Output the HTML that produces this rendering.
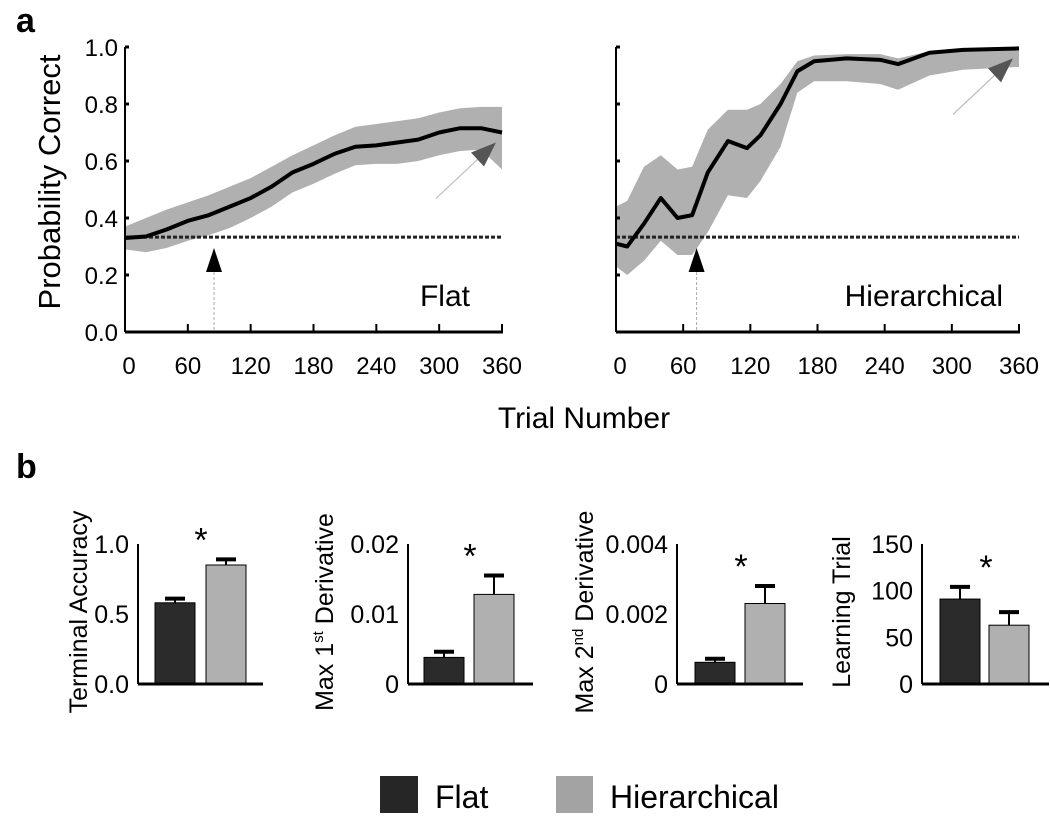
<!DOCTYPE html>
<html><head><meta charset="utf-8"><style>
body{margin:0;background:#fff;}
svg{display:block;font-family:"Liberation Sans",sans-serif;}
</style></head><body>
<svg id="fig" width="1050" height="819" viewBox="0 0 1050 819">
<text x="16" y="32" font-size="34" font-weight="bold">a</text>
<text x="16" y="478" font-size="34" font-weight="bold">b</text>
<text transform="translate(60,182) rotate(-90)" text-anchor="middle" font-size="31">Probability Correct</text>
<text x="584" y="428" text-anchor="middle" font-size="30">Trial Number</text>
<g id="lines"></g>
<g id="bars"></g>
<g>
<rect x="380" y="776" width="38" height="37" fill="#262626"/>
<text x="435" y="808" font-size="32">Flat</text>
<rect x="556" y="776" width="37" height="37" fill="#a3a3a3"/>
<text x="610" y="808" font-size="32">Hierarchical</text>
</g>
</svg>
<script>
const flatTrials=[0,20,40,60,80,100,120,140,160,180,200,220,240,260,280,300,320,340,360];
const flatMean=[0.33,0.335,0.36,0.39,0.41,0.44,0.47,0.51,0.56,0.59,0.625,0.65,0.655,0.665,0.675,0.70,0.715,0.715,0.70];
const flatUpper=[0.37,0.40,0.43,0.455,0.48,0.51,0.54,0.58,0.62,0.655,0.69,0.72,0.73,0.74,0.75,0.77,0.785,0.79,0.79];
const flatLower=[0.29,0.28,0.295,0.32,0.34,0.365,0.40,0.44,0.49,0.52,0.555,0.585,0.59,0.59,0.60,0.62,0.635,0.64,0.57];
const hierTrials=[0,10,25,40,55,68,82,100,117,129,147,162,177,206,236,252,280,310,360];
const hierMean=[0.31,0.30,0.38,0.47,0.40,0.41,0.56,0.67,0.645,0.69,0.80,0.915,0.95,0.96,0.955,0.94,0.98,0.99,0.995];
const hierUpper=[0.44,0.46,0.58,0.62,0.57,0.58,0.71,0.78,0.78,0.80,0.87,0.95,0.97,0.975,0.975,0.96,0.985,0.995,0.995];
const hierLower=[0.23,0.20,0.25,0.32,0.27,0.27,0.35,0.48,0.47,0.53,0.65,0.84,0.88,0.88,0.87,0.85,0.90,0.92,0.93];
const xTicks=[0,60,120,180,240,300,360];
const yTicks=[0,0.2,0.4,0.6,0.8,1.0];
const chance=0.333;
const learnTrials=[85,72];

const barNames=["terminal-accuracy","max-1st-derivative","max-2nd-derivative","learning-trial"];
const barFlat=[0.58,0.0038,0.00062,91];
const barFlatErr=[0.03,0.0008,0.0001,13];
const barHier=[0.85,0.0128,0.0023,63];
const barHierErr=[0.04,0.0027,0.0005,14];
const barMax=[1.0,0.02,0.004,150];
const barTickLabels=[["0.0","0.5","1.0"],["0","0.01","0.02"],["0","0.002","0.004"],["0","50","100","150"]];

const NS="http://www.w3.org/2000/svg";
function mk(tag,attrs,parent){const e=document.createElementNS(NS,tag);for(const k in attrs)e.setAttribute(k,attrs[k]);parent.appendChild(e);return e;}
const L=document.getElementById('lines');
const panels=[{x0:125,x1:502,name:"flat",t:flatTrials,m:flatMean,u:flatUpper,l:flatLower,lab:"Flat",labX:470,ticks:true},
{x0:616,x1:1019,name:"hierarchical",t:hierTrials,m:hierMean,u:hierUpper,l:hierLower,lab:"Hierarchical",labX:1003,ticks:false}];
const y0=332,y1=47;
panels.forEach((p,pi)=>{
 const sx=v=>p.x0+v/360*(p.x1-p.x0), sy=v=>y0+v*(y1-y0);
 const g=mk('g',{},L);
 
 
 let d='M'+p.t.map((t,i)=>sx(t)+','+sy(p.u[i])).join('L');
 for(let i=p.t.length-1;i>=0;i--)d+='L'+sx(p.t[i])+','+sy(p.l[i]);
 const band=mk('path',{d:d+'Z',fill:'#b0b0b0'},g);
 
 
 const ch=mk('line',{x1:p.x0,x2:p.x1,y1:sy(chance),y2:sy(chance),stroke:'#222','stroke-width':3,'stroke-dasharray':'4,2'},g);
 
 
 const ml=mk('path',{d:'M'+p.t.map((t,i)=>sx(t)+','+sy(p.m[i])).join('L'),fill:'none',stroke:'#000','stroke-width':4,'stroke-linejoin':'round'},g);
 
 
 const lx=sx(learnTrials[pi]);
 const dl=mk('line',{x1:lx,x2:lx,y1:272,y2:y0,stroke:'#aaa','stroke-width':1,'stroke-dasharray':'3,2'},g);
 
 
 const ah=mk('polygon',{points:(lx-8)+',272 '+(lx+8)+',272 '+lx+',248',fill:'#000'},g);
 
 
 const tx=p.x1-6, ty=sy(p.m[p.m.length-1])+10;
 const ga=mk('line',{x1:tx-60,y1:ty+56,x2:tx-10,y2:ty+9,stroke:'#bbb','stroke-width':1.2},g);
 
 
 const gh=mk('polygon',{points:tx+','+ty+' '+(tx-25)+','+(ty+10)+' '+(tx-12)+','+(ty+24),fill:'#555'},g);
 
 
 const ya=mk('line',{x1:p.x0,x2:p.x0,y1:y1,y2:y0,stroke:'#000','stroke-width':2},g);
 
 
 const xa=mk('line',{x1:p.x0,x2:p.x1+1,y1:y0,y2:y0,stroke:'#000','stroke-width':3},g);
 
 
 yTicks.forEach(v=>{
  const tk=mk('line',{x1:p.x0,x2:p.x0+4,y1:sy(v),y2:sy(v),stroke:'#000','stroke-width':3},g);
  
  
  if(p.ticks){const t=mk('text',{x:p.x0-7,y:sy(v)+9,'text-anchor':'end','font-size':24},g);t.textContent=v.toFixed(1);
   
   }
 });
 xTicks.forEach(v=>{
  const tk=mk('line',{x1:sx(v),x2:sx(v),y1:y0,y2:y0-8,stroke:'#000','stroke-width':2},g);
  
  
  const t=mk('text',{x:sx(v)+(v===0?4:0),y:374,'text-anchor':'middle','font-size':24},g);t.textContent=v;
  
  
 });
 const lab=mk('text',{x:p.labX,y:306,'text-anchor':'end','font-size':30},g);lab.textContent=p.lab;
 
 
});

const B=document.getElementById('bars');
const bp=[{ax:138,end:263,b1:155,b2:206,t:"Terminal Accuracy",sup:null,tOff:51},
{ax:408,end:533,b1:424,b2:474,t:"Max 1",sup:["st"," Derivative"],tOff:75},
{ax:677,end:803,b1:695,b2:745,t:"Max 2",sup:["nd"," Derivative"],tOff:84},
{ax:922,end:1049,b1:940,b2:989,t:"Learning Trial",sup:null,tOff:72}];
const by0=684,by1=544,bw=40;
bp.forEach((p,i)=>{
 const sy=v=>by0+v/barMax[i]*(by1-by0);
 const g=mk('g',{},B);
 
 
 [[p.b1,barFlat[i],barFlatErr[i],'#2b2b2b','flat'],[p.b2,barHier[i],barHierErr[i],'#b0b0b0','hierarchical']].forEach(b=>{
  const cx=b[0]+bw/2, top=sy(b[1]), et=sy(b[1]+b[2]);
  const el=mk('line',{x1:cx,x2:cx,y1:top,y2:et,stroke:'#000','stroke-width':2},g);
  
  
  const ec=mk('line',{x1:cx-10,x2:cx+10,y1:et,y2:et,stroke:'#000','stroke-width':4},g);
  
  
  const r=mk('rect',{x:b[0],y:top,width:bw,height:by0-top,fill:b[3],stroke:'#000','stroke-width':1},g);
  
  
 });
 const ya=mk('line',{x1:p.ax,x2:p.ax,y1:by1,y2:by0,stroke:'#000','stroke-width':2},g);
 
 
 const xa=mk('line',{x1:p.ax,x2:p.end,y1:by0,y2:by0,stroke:'#000','stroke-width':3},g);
 
 
 const tl=barTickLabels[i];
 tl.forEach((s,k)=>{
  const v=barMax[i]*k/(tl.length-1);
  const t=mk('text',{x:p.ax-9,y:sy(v)+9,'text-anchor':'end','font-size':25},g);t.textContent=s;
  
  
 });
 const st=mk('text',{x:p.b1+bw+6,y:Math.min(sy(barFlat[i]+barFlatErr[i]),sy(barHier[i]+barHierErr[i]))-8,'text-anchor':'middle','font-size':34},g);
 st.textContent='*';
 
 
 const tx=mk('text',{transform:'translate('+(p.ax-p.tOff)+',612) rotate(-90)','text-anchor':'middle','font-size':25},g);
 
 
 if(p.sup){tx.textContent=p.t;const s1=mk('tspan',{'font-size':15,dy:-10},tx);s1.textContent=p.sup[0];const s2=mk('tspan',{dy:10},tx);s2.textContent=p.sup[1];}
 else tx.textContent=p.t;
});
</script>
</body></html>
